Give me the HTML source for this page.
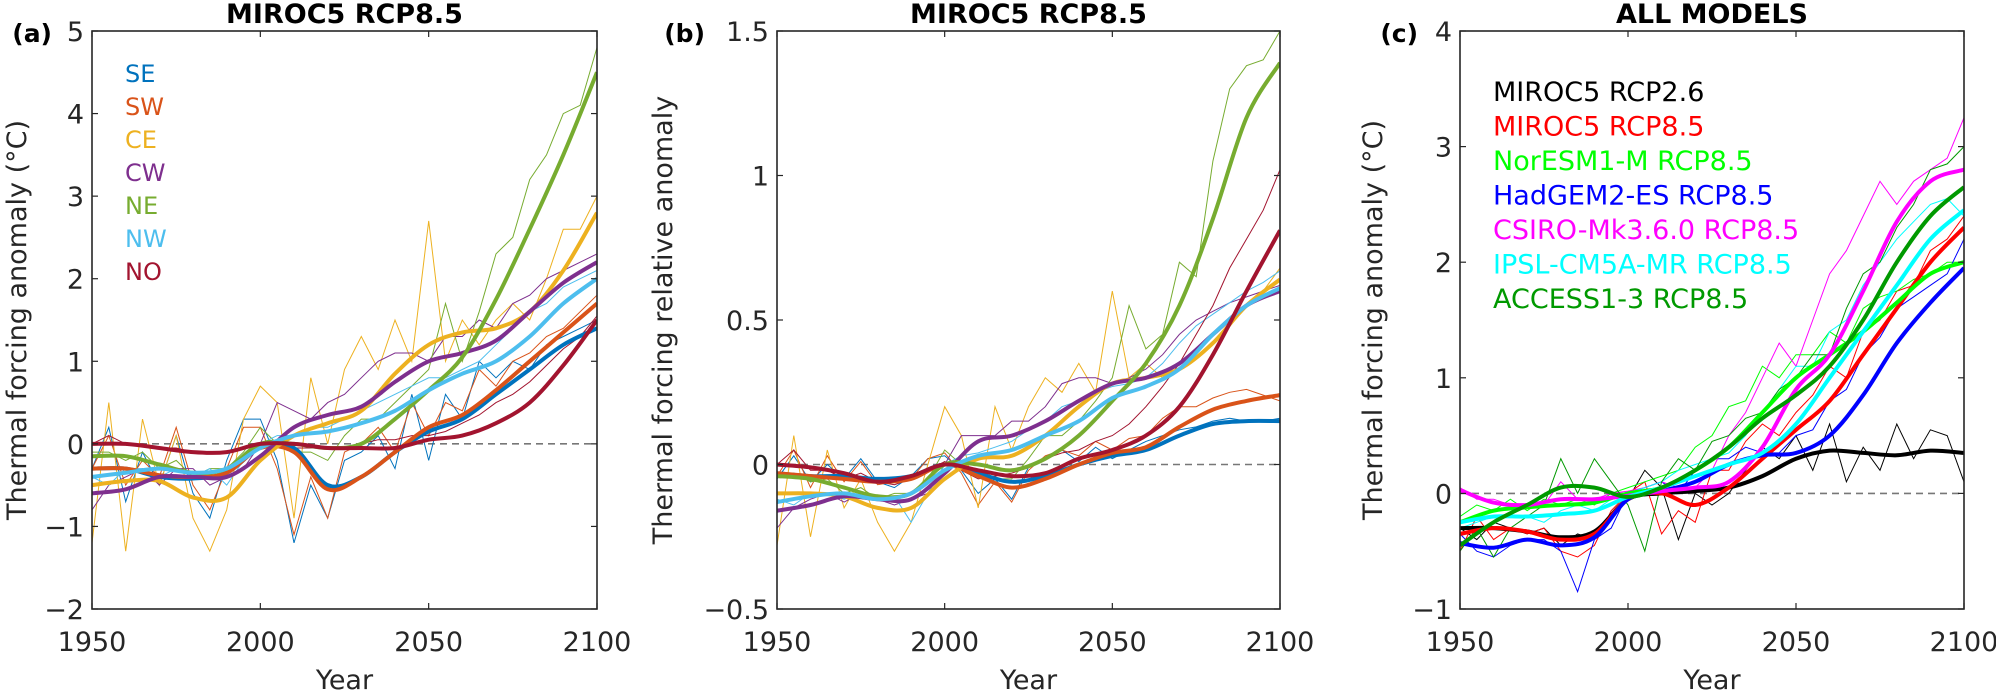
<!DOCTYPE html>
<html><head><meta charset="utf-8"><style>
html,body{margin:0;padding:0;background:#fff;}
svg{display:block;font-family:"DejaVu Sans","Liberation Sans",sans-serif;}
</style></head><body>
<svg id="chart" width="1996" height="693" viewBox="0 0 1996 693" xmlns="http://www.w3.org/2000/svg"></svg>
<script>
// ---------- data ----------
const yearsThick = [1950,1960,1970,1980,1990,2000,2010,2020,2030,2040,2050,2060,2070,2080,2090,2100];
const yearsThin = [1950,1955,1960,1965,1970,1975,1980,1985,1990,1995,2000,2005,2010,2015,2020,2025,2030,2035,2040,2045,2050,2055,2060,2065,2070,2075,2080,2085,2090,2095,2100];
const regionNames = ["SE","SW","CE","CW","NE","NW","NO"];
const modelNames = ["MIROC5 RCP2.6","MIROC5 RCP8.5","NorESM1-M RCP8.5","HadGEM2-ES RCP8.5","CSIRO-Mk3.6.0 RCP8.5","IPSL-CM5A-MR RCP8.5","ACCESS1-3 RCP8.5"];
const ticksA = [-2,-1,0,1,2,3,4,5];
const ticksB = [-0.5,0,0.5,1,1.5];
const ticksC = [-1,0,1,2,3,4];
const ticksX = [1950,2000,2050,2100];

// panel a thick
const aSE = [-0.3,-0.3,-0.4,-0.42,-0.35,-0.05,-0.05,-0.5,-0.4,-0.1,0.15,0.3,0.6,0.9,1.2,1.4];
const aSW = [-0.3,-0.3,-0.38,-0.4,-0.35,-0.05,-0.1,-0.55,-0.4,-0.1,0.2,0.35,0.65,1.0,1.35,1.7];
const aCE = [-0.5,-0.45,-0.45,-0.65,-0.65,-0.2,0.1,0.25,0.4,0.85,1.2,1.35,1.4,1.6,2.1,2.8];
const aCW = [-0.6,-0.55,-0.4,-0.4,-0.4,-0.15,0.2,0.35,0.45,0.75,1.0,1.1,1.25,1.6,1.95,2.2];
const aNE = [-0.15,-0.15,-0.25,-0.35,-0.3,0.0,0.0,-0.05,0.0,0.3,0.65,1.05,1.75,2.6,3.5,4.5];
const aNW = [-0.4,-0.35,-0.3,-0.35,-0.3,-0.05,0.1,0.15,0.25,0.4,0.65,0.85,1.0,1.3,1.7,2.0];
const aNO = [0,0,-0.05,-0.1,-0.1,0,0,-0.05,-0.05,-0.05,0.05,0.1,0.25,0.5,0.95,1.5];
// panel a thin
const aSEt = [-0.3,0.2,-0.7,-0.1,-0.5,0.1,-0.6,-0.9,-0.2,0.3,0.3,-0.2,-1.2,-0.5,-0.9,-0.2,-0.1,0.1,-0.3,0.6,-0.2,0.6,0.3,1.0,0.8,1.0,0.9,1.2,1.3,1.4,1.5];
const aSWt = [-0.3,0.1,-0.5,-0.2,-0.4,0.2,-0.5,-0.8,-0.3,0.2,0.2,-0.3,-1.1,-0.4,-0.9,-0.1,0,0.2,-0.1,0.5,0.1,0.5,0.4,0.9,0.7,1.0,1.1,1.3,1.4,1.6,1.8];
const aCEt = [-1.2,0.5,-1.3,0.3,-0.5,0.1,-0.9,-1.3,-0.8,0.3,0.7,0.5,-0.9,0.8,0.0,0.9,1.3,0.9,1.5,1.0,2.7,1.0,1.5,1.2,1.5,1.7,1.5,2.0,2.6,2.6,3.0];
const aCWt = [-0.8,-0.5,-0.4,-0.3,-0.5,-0.3,-0.3,-0.5,-0.4,-0.3,0.0,0.5,0.4,0.3,0.5,0.6,0.8,1.0,1.1,1.1,1.0,1.3,1.3,1.5,1.4,1.7,1.8,2.0,2.1,2.2,2.3];
const aNEt = [-0.1,-0.1,-0.2,-0.1,-0.3,-0.2,-0.4,-0.3,-0.3,-0.1,0.2,0,-0.1,-0.1,-0.2,0.1,0.3,0.3,0.5,0.7,0.9,1.7,1.0,1.6,2.3,2.5,3.2,3.5,4.0,4.1,4.8];
const aNWt = [-0.4,-0.5,-0.3,-0.3,-0.4,-0.3,-0.4,-0.3,-0.5,-0.2,0.0,0.1,0.1,0.2,0.2,0.3,0.4,0.5,0.6,0.7,0.8,0.8,0.9,1.0,1.2,1.4,1.6,1.7,1.9,2.0,2.1];
const aNOt = [0,0.1,0,0,-0.05,-0.05,-0.1,-0.1,-0.1,-0.05,0,0,-0.05,-0.05,-0.05,-0.05,0,0.05,0.05,0.1,0.1,0.15,0.25,0.35,0.5,0.6,0.75,0.95,1.15,1.3,1.55];

// panel b thick
const bSE = [-0.03,-0.04,-0.04,-0.05,-0.04,0,-0.03,-0.06,-0.04,0,0.03,0.05,0.1,0.14,0.15,0.15];
const bSW = [-0.03,-0.04,-0.05,-0.06,-0.05,0,-0.04,-0.08,-0.05,0,0.04,0.06,0.13,0.19,0.22,0.24];
const bCE = [-0.1,-0.1,-0.11,-0.15,-0.15,-0.05,0.02,0.03,0.1,0.2,0.28,0.3,0.33,0.42,0.55,0.64];
const bCW = [-0.16,-0.14,-0.11,-0.12,-0.12,-0.03,0.08,0.1,0.15,0.22,0.28,0.3,0.35,0.45,0.55,0.6];
const bNE = [-0.04,-0.05,-0.08,-0.11,-0.1,0,0,-0.02,0.02,0.1,0.22,0.35,0.55,0.85,1.2,1.39];
const bNW = [-0.13,-0.11,-0.1,-0.12,-0.1,-0.02,0.03,0.05,0.1,0.15,0.23,0.27,0.33,0.45,0.55,0.61];
const bNO = [0,-0.01,-0.03,-0.06,-0.04,0,-0.02,-0.04,-0.03,0.02,0.05,0.1,0.2,0.38,0.6,0.81];
// panel b thin
const bSEt = [-0.05,0.03,-0.06,0,-0.05,0.02,-0.06,-0.08,-0.04,0.02,0.03,-0.02,-0.1,-0.05,-0.12,-0.01,0.02,0.05,0.01,0.06,0.02,0.05,0.08,0.1,0.12,0.13,0.15,0.16,0.15,0.15,0.16];
const bSWt = [-0.04,0.05,-0.08,0.03,-0.06,0.01,-0.07,-0.06,-0.05,0.02,0.04,-0.03,-0.14,-0.06,-0.13,-0.02,0.03,0.05,0.03,0.08,0.05,0.09,0.1,0.16,0.2,0.2,0.23,0.25,0.26,0.24,0.22];
const bCEt = [-0.28,0.1,-0.25,0.05,-0.15,-0.05,-0.2,-0.3,-0.2,0.0,0.2,0.1,-0.15,0.2,0.05,0.2,0.3,0.25,0.35,0.25,0.6,0.3,0.35,0.3,0.35,0.4,0.45,0.5,0.55,0.6,0.68];
const bCWt = [-0.22,-0.15,-0.12,-0.1,-0.13,-0.1,-0.12,-0.14,-0.12,-0.1,0.0,0.1,0.1,0.1,0.15,0.15,0.2,0.28,0.3,0.3,0.28,0.3,0.33,0.38,0.45,0.5,0.53,0.56,0.58,0.6,0.62];
const bNEt = [-0.04,-0.03,-0.06,-0.05,-0.1,-0.08,-0.12,-0.1,-0.1,-0.05,0.05,0.0,-0.03,-0.05,-0.05,0.02,0.1,0.1,0.15,0.22,0.3,0.55,0.4,0.45,0.7,0.65,1.05,1.3,1.38,1.4,1.5];
const bNWt = [-0.12,-0.14,-0.1,-0.1,-0.12,-0.1,-0.12,-0.11,-0.2,-0.1,0.0,0.03,0.04,0.06,0.08,0.12,0.15,0.2,0.22,0.25,0.27,0.28,0.3,0.35,0.42,0.48,0.52,0.56,0.6,0.63,0.67];
const bNOt = [0,0.05,-0.02,-0.02,-0.05,-0.03,-0.06,-0.07,-0.05,-0.02,0.01,-0.02,-0.05,-0.04,-0.03,-0.01,0.02,0.04,0.05,0.08,0.1,0.14,0.2,0.27,0.35,0.45,0.55,0.68,0.78,0.88,1.02];

// panel c thick
const cR26 = [-0.3,-0.3,-0.33,-0.38,-0.33,-0.05,0,0.02,0.05,0.15,0.3,0.37,0.35,0.33,0.37,0.35];
const cR85 = [-0.35,-0.3,-0.33,-0.4,-0.35,-0.05,0,-0.1,0.05,0.3,0.55,0.8,1.2,1.6,2.0,2.3];
const cNor = [-0.25,-0.15,-0.12,-0.1,-0.08,0,0.05,0.2,0.4,0.7,1.0,1.2,1.4,1.65,1.9,2.0];
const cHad = [-0.43,-0.47,-0.4,-0.45,-0.38,-0.05,0.02,0.1,0.25,0.33,0.35,0.5,0.85,1.3,1.65,1.95];
const cCSI = [0.03,-0.08,-0.1,-0.05,-0.05,-0.02,0.02,0.05,0.1,0.4,0.9,1.2,1.75,2.35,2.7,2.8];
const cIPS = [-0.25,-0.2,-0.2,-0.18,-0.15,-0.03,0.05,0.15,0.25,0.35,0.6,1.0,1.4,1.8,2.2,2.45];
const cACC = [-0.45,-0.25,-0.1,0.05,0.05,-0.03,0.05,0.2,0.4,0.65,0.85,1.1,1.5,2.0,2.4,2.65];
// panel c thin
const cR26t = [-0.3,-0.4,-0.25,-0.3,-0.35,-0.3,-0.45,-0.35,-0.4,-0.2,-0.05,0.2,0.05,-0.4,0.0,-0.1,0.0,0.2,0.4,0.3,0.5,0.2,0.6,0.1,0.4,0.2,0.6,0.3,0.55,0.5,0.1];
const cR85t = [-0.5,-0.2,-0.4,-0.3,-0.35,-0.3,-0.5,-0.55,-0.45,-0.15,0.0,0.1,-0.35,-0.15,-0.25,0.2,0.2,0.45,0.6,0.5,0.7,0.85,1.1,1.0,1.4,1.5,1.75,1.8,2.1,2.2,2.4];
const cNort = [-0.2,-0.1,-0.15,-0.05,-0.15,-0.05,-0.1,-0.05,-0.1,0.0,0.05,0.1,0.15,0.2,0.4,0.5,0.75,0.8,1.1,1.0,1.2,1.2,1.4,1.3,1.6,1.7,1.75,1.85,1.9,2.0,2.0];
const cHadt = [-0.35,-0.5,-0.55,-0.45,-0.4,-0.4,-0.5,-0.85,-0.4,-0.3,0.0,0.05,0.1,0.0,0.2,0.3,0.3,0.4,0.35,0.35,0.5,0.55,0.8,0.9,1.2,1.35,1.6,1.7,1.8,1.9,2.2];
const cCSIt = [0.05,-0.05,-0.05,-0.1,-0.1,-0.1,0.1,-0.05,-0.05,0.0,0.02,0.05,0.1,0.05,0.05,0.2,0.5,0.7,1.0,1.3,1.1,1.5,1.9,2.1,2.4,2.7,2.5,2.7,2.8,2.9,3.25];
const cIPSt = [-0.3,-0.25,-0.2,-0.2,-0.2,-0.25,-0.15,-0.1,-0.15,-0.05,0.0,0.05,0.1,0.2,0.25,0.3,0.35,0.5,0.7,0.9,1.1,1.1,1.4,1.5,1.8,2.0,2.2,2.35,2.5,2.55,2.4];
const cACCt = [-0.5,-0.3,-0.55,-0.3,-0.2,-0.1,0.3,0.0,0.3,0.1,-0.1,-0.5,0.1,0.3,0.2,0.45,0.5,0.65,0.7,0.9,1.0,1.2,1.2,1.6,1.9,2.0,2.3,2.5,2.8,2.85,3.0];

// ---------- drawing ----------
const NS = "http://www.w3.org/2000/svg";
const svg = document.getElementById("chart");
function mk(tag, attrs, parent){
  const e = document.createElementNS(NS, tag);
  for (const k in attrs) e.setAttribute(k, attrs[k]);
  (parent||svg).appendChild(e);
  return e;
}
function smoothPath(pts){
  let d = "M" + pts[0][0].toFixed(1) + "," + pts[0][1].toFixed(1);
  for (let i=0;i<pts.length-1;i++){
    const p0=pts[Math.max(0,i-1)], p1=pts[i], p2=pts[i+1], p3=pts[Math.min(pts.length-1,i+2)];
    const c1=[p1[0]+(p2[0]-p0[0])/6, p1[1]+(p2[1]-p0[1])/6];
    const c2=[p2[0]-(p3[0]-p1[0])/6, p2[1]-(p3[1]-p1[1])/6];
    d += " C"+c1[0].toFixed(1)+","+c1[1].toFixed(1)+" "+c2[0].toFixed(1)+","+c2[1].toFixed(1)+" "+p2[0].toFixed(1)+","+p2[1].toFixed(1);
  }
  return d;
}
const TOP=31, BOT=609;
function panel(cfg){
  const g = mk("g", {});
  
  
  const xs = yr => cfg.L + (yr-1950)/150*(cfg.R-cfg.L);
  const ys = v => BOT - (v-cfg.ymin)/(cfg.ymax-cfg.ymin)*(BOT-TOP);
  const clip = mk("clipPath", {id:"clip-"+cfg.name}, g);
  mk("rect", {x:cfg.L, y:TOP, width:cfg.R-cfg.L, height:BOT-TOP}, clip);
  const z = mk("line", {x1:cfg.L, x2:cfg.R, y1:ys(0), y2:ys(0), stroke:"#777", "stroke-width":1.6, "stroke-dasharray":"7,5"}, g);
  
  
  const lg = mk("g", {"clip-path":"url(#clip-"+cfg.name+")"}, g);
  cfg.series.forEach((s) => {
    const thin = mk("polyline", {points: s.thin.map((v,i)=>xs(yearsThin[i]).toFixed(1)+","+ys(v).toFixed(1)).join(" "), fill:"none", stroke:s.color, "stroke-width":1}, lg);
    
    
  });
  cfg.series.forEach((s) => {
    const th = mk("path", {d: smoothPath(s.thick.map((v,i)=>[xs(yearsThick[i]), ys(v)])), fill:"none", stroke:s.color, "stroke-width":4, "stroke-linejoin":"round"}, lg);
    
    
  });
  const box = mk("rect", {x:cfg.L, y:TOP, width:cfg.R-cfg.L, height:BOT-TOP, fill:"none", stroke:"#262626", "stroke-width":1.6}, g);
  
  
  cfg.yt.forEach(t => {
    const y = ys(t);
    mk("line", {x1:cfg.L, x2:cfg.L+6, y1:y, y2:y, stroke:"#262626", "stroke-width":1.2}, g);
    mk("line", {x1:cfg.R-6, x2:cfg.R, y1:y, y2:y, stroke:"#262626", "stroke-width":1.2}, g);
    const tx = mk("text", {x:cfg.L-8, y:y+10, "text-anchor":"end", "font-size":27, fill:"#262626"}, g);
    tx.textContent = (t<0? "\u2212"+Math.abs(t) : String(t));
    
    
  });
  ticksX.forEach(t => {
    const x = xs(t);
    mk("line", {x1:x, x2:x, y1:BOT, y2:BOT-6, stroke:"#262626", "stroke-width":1.2}, g);
    mk("line", {x1:x, x2:x, y1:TOP, y2:TOP+6, stroke:"#262626", "stroke-width":1.2}, g);
    const tx = mk("text", {x:x, y:651, "text-anchor":"middle", "font-size":27, fill:"#262626"}, g);
    tx.textContent = t;
    
    
  });
  const xl = mk("text", {x:(cfg.L+cfg.R)/2, y:689, "text-anchor":"middle", "font-size":27, fill:"#262626"}, g);
  xl.textContent = "Year";
  
  
  const yl = mk("text", {x:0, y:0, transform:"translate("+cfg.ylx+","+((TOP+BOT)/2)+") rotate(-90)", "text-anchor":"middle", "font-size":27, fill:"#262626"}, g);
  yl.textContent = cfg.ylabel;
  
  
  const tt = mk("text", {x:(cfg.L+cfg.R)/2, y:23, "text-anchor":"middle", "font-size":27, "font-weight":"bold", fill:"#000"}, g);
  tt.textContent = cfg.title;
  
  
  const pl = mk("text", {x:cfg.L-cfg.lblOff, y:42, "text-anchor":"end", "font-size":25, "font-weight":"bold", fill:"#000"}, g);
  pl.textContent = cfg.label;
  
  
  if (cfg.legend){
    cfg.series.forEach((s,i) => {
      const lt = mk("text", {x:cfg.legend.x, y:cfg.legend.y + i*cfg.legend.dy, "font-size":cfg.legend.fs, fill:s.color}, g);
      lt.textContent = s.label;
      
      
    });
  }
}
const regionColors = ["#0072BD","#D95319","#EDB120","#7E2F8E","#77AC30","#4DBEEE","#A2142F"];
const modelColors = ["#000000","#FF0000","#00FF00","#0000FF","#FF00FF","#00FFFF","#009900"];
const aThick=[aSE,aSW,aCE,aCW,aNE,aNW,aNO], aThin=[aSEt,aSWt,aCEt,aCWt,aNEt,aNWt,aNOt];
const bThick=[bSE,bSW,bCE,bCW,bNE,bNW,bNO], bThin=[bSEt,bSWt,bCEt,bCWt,bNEt,bNWt,bNOt];
const cThick=[cR26,cR85,cNor,cHad,cCSI,cIPS,cACC], cThin=[cR26t,cR85t,cNort,cHadt,cCSIt,cIPSt,cACCt];
const mkSeries = (names, colors, thick, thin) => names.map((n,i)=>({key:n.toLowerCase().replace(/[^a-z0-9]+/g,'-'), label:n, color:colors[i], thick:thick[i], thin:thin[i]}));

panel({name:"panel-a", label:"(a)", lblOff:40, title:"MIROC5 RCP8.5", L:92, R:597, ymin:-2, ymax:5, yt:ticksA, ylx:26,
  ylabel:"Thermal forcing anomaly (\u00B0C)", series:mkSeries(regionNames, regionColors, aThick, aThin),
  legend:{x:125, y:82, dy:33, fs:24}});
panel({name:"panel-b", label:"(b)", lblOff:72, title:"MIROC5 RCP8.5", L:777, R:1280, ymin:-0.5, ymax:1.5, yt:ticksB, ylx:672,
  ylabel:"Thermal forcing relative anomaly", series:mkSeries(regionNames, regionColors, bThick, bThin)});
panel({name:"panel-c", label:"(c)", lblOff:42, title:"ALL MODELS", L:1460, R:1964, ymin:-1, ymax:4, yt:ticksC, ylx:1382,
  ylabel:"Thermal forcing anomaly (\u00B0C)", series:mkSeries(modelNames, modelColors, cThick, cThin),
  legend:{x:1493, y:101, dy:34.5, fs:27}});
</script>
</body></html>
